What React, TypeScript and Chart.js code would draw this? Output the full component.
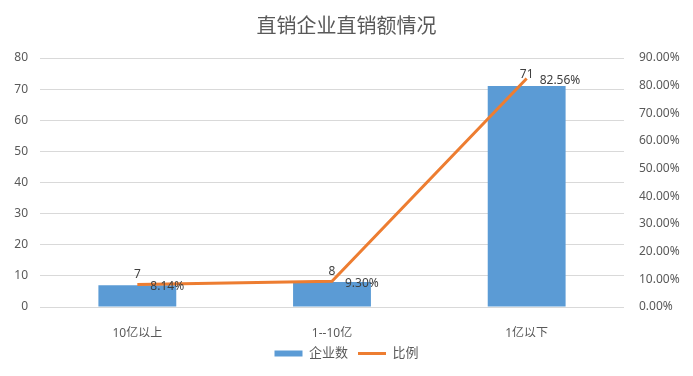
import React, { useEffect, useRef } from "react";
import { Chart, registerables } from "chart.js";

Chart.register(...registerables);

const categories = ["10亿以上", "1--10亿", "1亿以下"];
const companyCounts = [7, 8, 71];
const ratioPercents = [8.14, 9.3, 82.56];
const leftTicks = [0, 10, 20, 30, 40, 50, 60, 70, 80];
const rightTicks = [0, 10, 20, 30, 40, 50, 60, 70, 80, 90];

const FONT = '"Noto Sans", "Noto Sans CJK SC", sans-serif';
const BLUE = "#5B9BD5";
const ORANGE = "#ED7D31";
const TEXT = "#595959";

const labelPlugin = {
  id: "valueLabels",
  afterDatasetsDraw(chart: any) {
    const ctx = chart.ctx;
    ctx.save();
    ctx.font = `12px ${FONT}`;
    ctx.fillStyle = "#404040";
    const barMeta = chart.getDatasetMeta(0);
    barMeta.data.forEach((el: any, i: number) => {
      ctx.textAlign = "center";
      ctx.textBaseline = "bottom";
      ctx.fillText(String(companyCounts[i]), el.x, el.y - 5);
    });
    const lineMeta = chart.getDatasetMeta(1);
    lineMeta.data.forEach((el: any, i: number) => {
      ctx.textAlign = "left";
      ctx.textBaseline = "middle";
      ctx.fillText(ratioPercents[i].toFixed(2) + "%", el.x + 13, el.y + 2);
    });
    ctx.restore();
  },
};

export default function App() {
  const ref = useRef<HTMLCanvasElement>(null);
  useEffect(() => {
    document.body.style.margin = "0";
    const chart = new Chart(ref.current!, {
      type: "bar",
      data: {
        labels: categories,
        datasets: [
          {
            type: "bar",
            label: "企业数",
            data: companyCounts,
            backgroundColor: BLUE,
            yAxisID: "y",
            barPercentage: 0.4,
            categoryPercentage: 1,
            order: 1,
          },
          {
            type: "line",
            label: "比例",
            data: ratioPercents,
            borderColor: ORANGE,
            backgroundColor: ORANGE,
            borderWidth: 3,
            pointRadius: 0,
            tension: 0,
            yAxisID: "y1",
            order: 0,
          } as any,
        ],
      },
      options: {
        responsive: false,
        animation: false,
        layout: { padding: { left: 0, right: 0, top: 0, bottom: 6 } },
        plugins: {
          title: {
            display: true,
            text: "直销企业直销额情况",
            color: TEXT,
            font: { family: FONT, size: 20, weight: "normal" },
            padding: { top: 15, bottom: 19 },
          },
          legend: {
            position: "bottom",
            labels: {
              usePointStyle: true,
              pointStyleWidth: 28,
              boxHeight: 6,
              padding: 10,
              color: TEXT,
              font: { family: FONT, size: 13 },
              generateLabels: () => [
                {
                  text: "企业数",
                  fillStyle: BLUE,
                  strokeStyle: BLUE,
                  lineWidth: 0,
                  pointStyle: "rect",
                  fontColor: TEXT,
                  datasetIndex: 0,
                  hidden: false,
                },
                {
                  text: "比例",
                  fillStyle: ORANGE,
                  strokeStyle: ORANGE,
                  lineWidth: 3,
                  pointStyle: "line",
                  fontColor: TEXT,
                  datasetIndex: 1,
                  hidden: false,
                },
              ] as any,
            },
          },
          tooltip: { enabled: false },
        },
        scales: {
          x: {
            grid: { display: false },
            border: { display: false },
            ticks: { color: TEXT, font: { family: FONT, size: 12 }, padding: 11 },
            afterFit: (s: any) => {
              s.height = 30;
            },
          },
          y: {
            position: "left",
            min: 0,
            max: 80,
            afterBuildTicks: (s: any) => {
              s.ticks = leftTicks.map((v) => ({ value: v }));
            },
            grid: { color: "#D9D9D9", drawTicks: false },
            border: { display: false },
            ticks: { color: TEXT, font: { family: FONT, size: 12 }, padding: 12 },
            afterFit: (s: any) => {
              s.width = 40;
            },
          },
          y1: {
            position: "right",
            min: 0,
            max: 90,
            afterBuildTicks: (s: any) => {
              s.ticks = rightTicks.map((v) => ({ value: v }));
            },
            grid: { display: false, drawTicks: false },
            border: { display: false },
            ticks: {
              color: TEXT,
              font: { family: FONT, size: 12 },
              padding: 15,
              callback: (v: any) => Number(v).toFixed(2) + "%",
            },
            afterFit: (s: any) => {
              s.width = 69;
            },
          },
        },
      } as any,
      plugins: [labelPlugin],
    });
    return () => chart.destroy();
  }, []);
  return (
    <div style={{ width: 693, height: 376 }}>
      <canvas ref={ref} width={693} height={376} />
    </div>
  );
}
